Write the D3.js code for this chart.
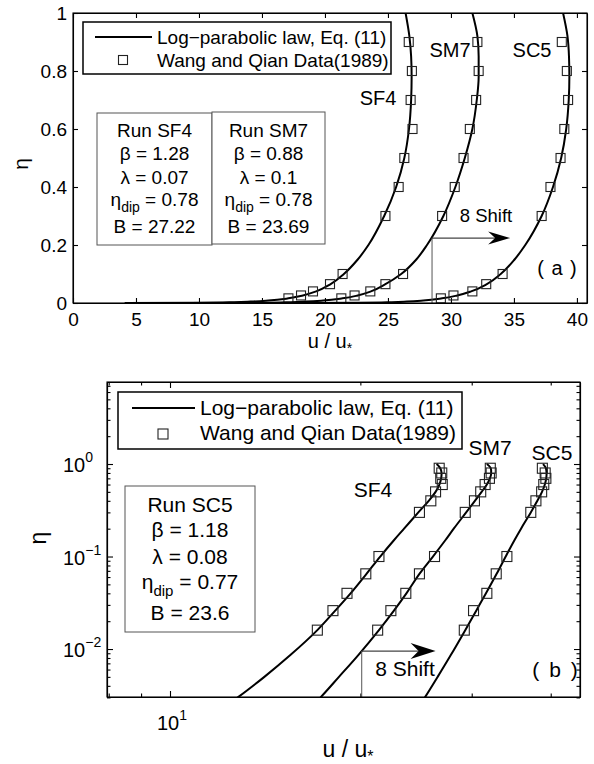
<!DOCTYPE html>
<html>
<head>
<meta charset="utf-8">
<script src="https://d3js.org/d3.v7.min.js"></script>
<style>
  body { margin: 0; background: #fff; }
  text { font-family: "Liberation Sans", Arial, sans-serif; fill: #000; }
</style>
</head>
<body>
<div id="chart"></div>
<script>
var etaData = [0.016, 0.026, 0.04, 0.065, 0.1, 0.3, 0.4, 0.5, 0.6, 0.7, 0.8, 0.9];
var uSF4 = [17.1, 18.1, 19.05, 20.4, 21.4, 24.8, 25.85, 26.3, 26.95, 26.8, 26.9, 26.65];
var uSM7 = [21.3, 22.35, 23.6, 24.8, 26.2, 29.3, 30.3, 31.0, 31.5, 32.0, 32.2, 32.1];
var uSC5 = [29.2, 30.2, 31.7, 32.8, 34.1, 37.2, 37.9, 38.7, 39.0, 39.3, 39.2, 38.8];

// log-parabolic law curves (Eq. 11)
var etaLaw = [0.0001, 0.001, 0.003, 0.005, 0.0086, 0.016, 0.026, 0.04, 0.065, 0.1, 0.15, 0.2, 0.3, 0.4, 0.5, 0.6, 0.7, 0.78, 0.85, 0.92, 1.0];
var lawSF4 = [4.1, 10.0, 12.8, 14.1, 15.5, 17.1, 18.25, 19.3, 20.45, 21.5, 22.6, 23.45, 24.7, 25.65, 26.3, 26.67, 26.84, 26.88, 26.84, 26.7, 26.4];
var lawSM7 = [9.0, 14.6, 17.3, 18.5, 19.85, 21.4, 22.6, 23.65, 24.8, 26.05, 27.25, 28.1, 29.4, 30.35, 31.1, 31.7, 32.05, 32.2, 32.2, 32.1, 31.7];
var lawSC5 = [17.2, 22.7, 25.3, 26.5, 27.8, 29.3, 30.5, 31.6, 32.85, 33.95, 35.05, 35.9, 37.2, 38.1, 38.75, 39.15, 39.35, 39.4, 39.37, 39.25, 38.9];

// axis ticks
var xTicksA = [0, 5, 10, 15, 20, 25, 30, 35, 40];
var yTicksA = [0, 0.2, 0.4, 0.6, 0.8, 1];
var xMajorB = [10];
var xMinorB = [8, 9, 20, 30, 40];
var yMajorB = [0.01, 0.1, 1];
var yMinorB = [0.003, 0.004, 0.005, 0.006, 0.007, 0.008, 0.009,
               0.02, 0.03, 0.04, 0.05, 0.06, 0.07, 0.08, 0.09,
               0.2, 0.3, 0.4, 0.5, 0.6, 0.7, 0.8, 0.9, 2, 3, 4, 5, 6, 7];
var yLabelsB = ["\u22122", "\u22121", "0"];

var runsA = [["Run SF4", "1.28", "0.07", "0.78", "27.22"],
             ["Run SM7", "0.88", "0.1", "0.78", "23.69"]];
var runB = ["Run SC5", "1.18", "0.08", "0.77", "23.6"];

var series = [
  {name: "SF4", u: uSF4, law: lawSF4},
  {name: "SM7", u: uSM7, law: lawSM7},
  {name: "SC5", u: uSC5, law: lawSC5}
];

var svg = d3.select("#chart").append("svg")
    .attr("width", 594).attr("height", 764);

var defs = svg.append("defs");

// ================= panel (a) =================
var xa = d3.scaleLinear().domain([0, 40.8]).range([73, 587]);
var ya = d3.scaleLinear().domain([0, 1]).range([303, 13]);

defs.append("clipPath").attr("id", "clipA").append("rect")
    .attr("x", 73).attr("y", 13).attr("width", 514).attr("height", 290);

var gA = svg.append("g");

gA.append("g").attr("transform", "translate(0,303)")
    .call(d3.axisBottom(xa).tickValues(xTicksA).tickSize(-5).tickSizeOuter(0).tickPadding(10));
gA.append("g").attr("transform", "translate(0,13)")
    .call(d3.axisTop(xa).tickValues(xTicksA).tickSize(-5).tickSizeOuter(0).tickFormat(""));
gA.append("g").attr("transform", "translate(73,0)")
    .call(d3.axisLeft(ya).tickValues(yTicksA).tickSize(-5).tickSizeOuter(0).tickPadding(6)
          .tickFormat(d3.format("~g")));
gA.append("g").attr("transform", "translate(587,0)")
    .call(d3.axisRight(ya).tickValues(yTicksA).tickSize(-5).tickSizeOuter(0).tickFormat(""));
gA.selectAll(".tick text").style("font-size", "19px").style("font-family", "Liberation Sans, Arial, sans-serif");
gA.selectAll(".domain, .tick line").attr("stroke", "#000").attr("stroke-width", 1.1);

var lineA = d3.line()
    .x(function(d) { return xa(d[0]); })
    .y(function(d) { return ya(d[1]); })
    .curve(d3.curveMonotoneY);

var plotA = gA.append("g").attr("clip-path", "url(#clipA)");
series.forEach(function(s) {
  plotA.append("path")
      .datum(d3.zip(s.law, etaLaw))
      .attr("d", lineA)
      .attr("fill", "none").attr("stroke", "#000").attr("stroke-width", 2);
  plotA.selectAll(null)
      .data(d3.zip(s.u, etaData))
      .enter().append("rect")
        .attr("x", function(d) { return xa(d[0]) - 4.5; })
        .attr("y", function(d) { return ya(d[1]) - 4.5; })
        .attr("width", 9).attr("height", 9)
        .attr("fill", "none").attr("stroke", "#222").attr("stroke-width", 1.1);
});

// shift arrow (a)
var shiftA = {u0: 28.5, u1: 34.7, eta: 0.224};
gA.append("line")
    .attr("x1", xa(shiftA.u0)).attr("x2", xa(shiftA.u0))
    .attr("y1", ya(shiftA.eta)).attr("y2", ya(0))
    .attr("stroke", "#555").attr("stroke-width", 1);
gA.append("line")
    .attr("x1", xa(shiftA.u0)).attr("x2", xa(shiftA.u1) - 15)
    .attr("y1", ya(shiftA.eta)).attr("y2", ya(shiftA.eta))
    .attr("stroke", "#444").attr("stroke-width", 1.2);
(function() {
  var tx = xa(shiftA.u1), ty = ya(shiftA.eta);
  gA.append("path")
      .attr("d", "M" + tx + "," + ty + "L" + (tx - 22) + "," + (ty - 6.5) +
                 "L" + (tx - 15) + "," + ty + "L" + (tx - 22) + "," + (ty + 6.5) + "Z")
      .attr("fill", "#000");
})();
gA.append("text").attr("x", 486).attr("y", 222).attr("text-anchor", "middle")
    .style("font-size", "18.5px").text("8 Shift");
gA.append("text").attr("x", 557).attr("y", 275).attr("text-anchor", "middle")
    .style("font-size", "20px").style("word-spacing", "2px").attr("xml:space", "preserve").text("( a )");

// curve names (a)
gA.append("text").attr("x", 378).attr("y", 105).attr("text-anchor", "middle").style("font-size", "20px").text("SF4");
gA.append("text").attr("x", 450).attr("y", 57).attr("text-anchor", "middle").style("font-size", "20px").text("SM7");
gA.append("text").attr("x", 532).attr("y", 57).attr("text-anchor", "middle").style("font-size", "20px").text("SC5");

// legend (a)
gA.append("rect").attr("x", 83).attr("y", 22).attr("width", 308).attr("height", 52)
    .attr("fill", "#fff").attr("stroke", "#000").attr("stroke-width", 1.5);
gA.append("line").attr("x1", 95).attr("x2", 152).attr("y1", 37).attr("y2", 37)
    .attr("stroke", "#000").attr("stroke-width", 2);
gA.append("rect").attr("x", 118.5).attr("y", 55.5).attr("width", 9).attr("height", 9)
    .attr("fill", "none").attr("stroke", "#222").attr("stroke-width", 1.1);
gA.append("text").attr("x", 157).attr("y", 44).style("font-size", "19px").text("Log\u2212parabolic law, Eq. (11)");
gA.append("text").attr("x", 157).attr("y", 67).style("font-size", "19px").text("Wang and Qian Data(1989)");

// parameter boxes (a)
var boxA = [{x0: 97, x1: 212, y0: 113, y1: 245}, {x0: 212, x1: 325, y0: 112, y1: 244}];
var baseA = [137, 160, 184, 206, 233];
runsA.forEach(function(r, i) {
  var b = boxA[i], cx = (b.x0 + b.x1) / 2;
  gA.append("rect").attr("x", b.x0).attr("y", b.y0)
      .attr("width", b.x1 - b.x0).attr("height", b.y1 - b.y0)
      .attr("fill", "#fff").attr("stroke", "#555").attr("stroke-width", 1);
  var t = gA.append("g").style("font-size", "19px").attr("text-anchor", "middle");
  t.append("text").attr("x", cx).attr("y", baseA[0]).text(r[0]);
  t.append("text").attr("x", cx).attr("y", baseA[1]).text("\u03b2 = " + r[1]);
  t.append("text").attr("x", cx).attr("y", baseA[2]).text("\u03bb = " + r[2]);
  var e = t.append("text").attr("x", cx).attr("y", baseA[3]);
  e.append("tspan").text("\u03b7");
  e.append("tspan").attr("dy", 6).style("font-size", "14px").text("dip");
  e.append("tspan").attr("dy", -6).text(" = " + r[3]);
  t.append("text").attr("x", cx).attr("y", baseA[4]).text("B = " + r[4]);
});

// axis labels (a)
gA.append("text").attr("transform", "translate(28,164) rotate(-90)")
    .attr("text-anchor", "middle").style("font-size", "21px").text("\u03b7");
var xlA = gA.append("text").attr("x", 330).attr("y", 348).attr("text-anchor", "middle").style("font-size", "20px");
xlA.append("tspan").text("u / u");
xlA.append("tspan").attr("dy", 5).style("font-size", "14px").text("*");

gA.append("rect").attr("x", 73).attr("y", 13).attr("width", 514).attr("height", 290)
    .attr("fill", "none").attr("stroke", "#000").attr("stroke-width", 1.1);

// ================= panel (b) =================
var xb = d3.scaleLog().domain([7.95, 44.5]).range([107, 580]);
var yb = d3.scaleLog().domain([0.00303, 7.7]).range([697, 382]);

defs.append("clipPath").attr("id", "clipB").append("rect")
    .attr("x", 107).attr("y", 382).attr("width", 473).attr("height", 315);

var gB = svg.append("g");

function ticksB(g, axis, vals, len) {
  g.call(axis.tickValues(vals).tickSize(-len).tickSizeOuter(0).tickFormat(""));
}
ticksB(gB.append("g").attr("transform", "translate(0,697)"), d3.axisBottom(xb), xMajorB, 6);
ticksB(gB.append("g").attr("transform", "translate(0,697)"), d3.axisBottom(xb), xMinorB, 3.5);
ticksB(gB.append("g").attr("transform", "translate(0,382)"), d3.axisTop(xb), xMajorB, 6);
ticksB(gB.append("g").attr("transform", "translate(0,382)"), d3.axisTop(xb), xMinorB, 3.5);
ticksB(gB.append("g").attr("transform", "translate(107,0)"), d3.axisLeft(yb), yMajorB, 6);
ticksB(gB.append("g").attr("transform", "translate(107,0)"), d3.axisLeft(yb), yMinorB, 3.5);
ticksB(gB.append("g").attr("transform", "translate(580,0)"), d3.axisRight(yb), yMajorB, 6);
ticksB(gB.append("g").attr("transform", "translate(580,0)"), d3.axisRight(yb), yMinorB, 3.5);
gB.selectAll(".domain, .tick line").attr("stroke", "#000").attr("stroke-width", 1.1);

// tick labels with exponents
yMajorB.forEach(function(v, i) {
  var t = gB.append("text").attr("x", 63).attr("y", yb(v) + 8).style("font-size", "20px");
  t.append("tspan").text("10");
  t.append("tspan").attr("dy", -10).style("font-size", "14px").text(yLabelsB[i]);
});
xMajorB.forEach(function(v) {
  var t = gB.append("text").attr("x", xb(v) - 13).attr("y", 730).style("font-size", "20px");
  t.append("tspan").text("10");
  t.append("tspan").attr("dy", -10).style("font-size", "14px").text("1");
});

var lineB = d3.line()
    .x(function(d) { return xb(d[0]); })
    .y(function(d) { return yb(d[1]); })
    .curve(d3.curveMonotoneY);

var plotB = gB.append("g").attr("clip-path", "url(#clipB)");
series.forEach(function(s) {
  plotB.append("path")
      .datum(d3.zip(s.law, etaLaw))
      .attr("d", lineB)
      .attr("fill", "none").attr("stroke", "#000").attr("stroke-width", 2);
  plotB.selectAll(null)
      .data(d3.zip(s.u, etaData))
      .enter().append("rect")
        .attr("x", function(d) { return xb(d[0]) - 5; })
        .attr("y", function(d) { return yb(d[1]) - 5; })
        .attr("width", 10).attr("height", 10)
        .attr("fill", "none").attr("stroke", "#222").attr("stroke-width", 1.1);
});

// shift arrow (b)
var shiftB = {u0: 20.1, u1: 26.3, eta: 0.0095};
gB.append("line")
    .attr("x1", xb(shiftB.u0)).attr("x2", xb(shiftB.u0))
    .attr("y1", yb(shiftB.eta)).attr("y2", 697)
    .attr("stroke", "#555").attr("stroke-width", 1);
gB.append("line")
    .attr("x1", xb(shiftB.u0)).attr("x2", xb(shiftB.u1) - 17)
    .attr("y1", yb(shiftB.eta)).attr("y2", yb(shiftB.eta))
    .attr("stroke", "#444").attr("stroke-width", 1.2);
(function() {
  var tx = xb(shiftB.u1), ty = yb(shiftB.eta);
  gB.append("path")
      .attr("d", "M" + tx + "," + ty + "L" + (tx - 25) + "," + (ty - 8) +
                 "L" + (tx - 17) + "," + ty + "L" + (tx - 25) + "," + (ty + 8) + "Z")
      .attr("fill", "#000");
})();
gB.append("text").attr("x", 405).attr("y", 676).attr("text-anchor", "middle")
    .style("font-size", "21px").text("8 Shift");
gB.append("text").attr("x", 555).attr("y", 677).attr("text-anchor", "middle")
    .style("font-size", "21px").style("word-spacing", "4px").attr("xml:space", "preserve").text("( b )");

// curve names (b)
gB.append("text").attr("x", 373).attr("y", 497).attr("text-anchor", "middle").style("font-size", "21px").text("SF4");
gB.append("text").attr("x", 490).attr("y", 455).attr("text-anchor", "middle").style("font-size", "21px").text("SM7");
gB.append("text").attr("x", 552).attr("y", 460).attr("text-anchor", "middle").style("font-size", "21px").text("SC5");

// legend (b)
gB.append("rect").attr("x", 118).attr("y", 392).attr("width", 344).attr("height", 57)
    .attr("fill", "#fff").attr("stroke", "#000").attr("stroke-width", 1.5);
gB.append("line").attr("x1", 132).attr("x2", 195).attr("y1", 408).attr("y2", 408)
    .attr("stroke", "#000").attr("stroke-width", 2);
gB.append("rect").attr("x", 158).attr("y", 429).attr("width", 10).attr("height", 10)
    .attr("fill", "none").attr("stroke", "#222").attr("stroke-width", 1.1);
gB.append("text").attr("x", 200).attr("y", 415).style("font-size", "21px").text("Log\u2212parabolic law, Eq. (11)");
gB.append("text").attr("x", 200).attr("y", 440).style("font-size", "21px").text("Wang and Qian Data(1989)");

// parameter box (b)
var boxB = {x0: 125, x1: 255, y0: 486, y1: 632};
var baseB = [512, 537, 564, 589, 620];
(function() {
  var cx = (boxB.x0 + boxB.x1) / 2;
  gB.append("rect").attr("x", boxB.x0).attr("y", boxB.y0)
      .attr("width", boxB.x1 - boxB.x0).attr("height", boxB.y1 - boxB.y0)
      .attr("fill", "#fff").attr("stroke", "#555").attr("stroke-width", 1);
  var t = gB.append("g").style("font-size", "21px").attr("text-anchor", "middle");
  t.append("text").attr("x", cx).attr("y", baseB[0]).text(runB[0]);
  t.append("text").attr("x", cx).attr("y", baseB[1]).text("\u03b2 = " + runB[1]);
  t.append("text").attr("x", cx).attr("y", baseB[2]).text("\u03bb = " + runB[2]);
  var e = t.append("text").attr("x", cx).attr("y", baseB[3]);
  e.append("tspan").text("\u03b7");
  e.append("tspan").attr("dy", 7).style("font-size", "15px").text("dip");
  e.append("tspan").attr("dy", -7).text(" = " + runB[3]);
  t.append("text").attr("x", cx).attr("y", baseB[4]).text("B = " + runB[4]);
})();

// axis labels (b)
gB.append("text").attr("transform", "translate(46,538) rotate(-90)")
    .attr("text-anchor", "middle").style("font-size", "23px").text("\u03b7");
var xlB = gB.append("text").attr("x", 348).attr("y", 757).attr("text-anchor", "middle").style("font-size", "23px");
xlB.append("tspan").text("u / u");
xlB.append("tspan").attr("dy", 5).style("font-size", "16px").text("*");

gB.append("rect").attr("x", 107).attr("y", 382).attr("width", 473).attr("height", 315)
    .attr("fill", "none").attr("stroke", "#000").attr("stroke-width", 1.1);
</script>
</body>
</html>
